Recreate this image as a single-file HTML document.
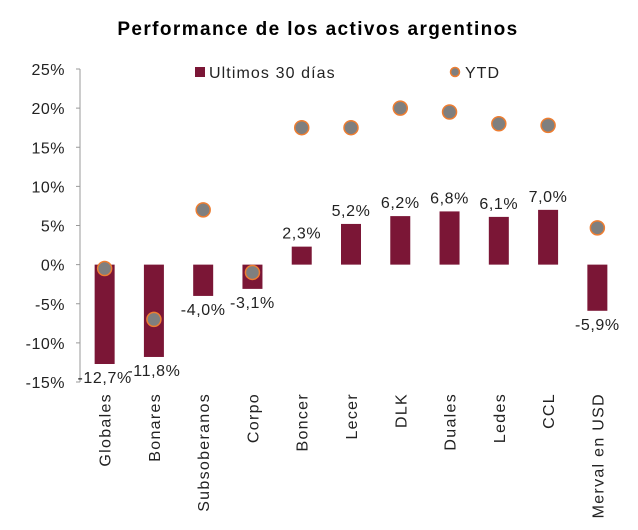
<!DOCTYPE html>
<html><head><meta charset="utf-8"><style>
body{margin:0;background:#fff}
svg{font-family:"Liberation Sans",sans-serif}
</style></head><body>
<svg id="c" width="638" height="525">
<text x="318" y="35" text-anchor="middle" font-size="19" font-weight="bold" fill="#000" letter-spacing="1.4">Performance de los activos argentinos</text>
<g>
<rect x="195" y="67" width="10" height="10" fill="#7b1636"/>
<text x="209" y="78" font-size="16" fill="#222" letter-spacing="1.1">Ultimos 30 días</text>
<circle cx="455" cy="72" r="4.5" fill="#7f7f7f" stroke="#ed7d31" stroke-width="1.5"/>
<text x="465" y="78" font-size="16" fill="#222" letter-spacing="1">YTD</text>
</g>
</svg>
<script>
const categories=["Globales","Bonares","Subsoberanos","Corpo","Boncer","Lecer","DLK","Duales","Ledes","CCL","Merval en USD"];
const last30=[-12.7,-11.8,-4.0,-3.1,2.3,5.2,6.2,6.8,6.1,7.0,-5.9];
const ytd=[-0.5,-7.0,7.0,-1.0,17.5,17.5,20.0,19.5,18.0,17.8,4.7];
const yTicks=[25,20,15,10,5,0,-5,-10,-15];
const svg=document.getElementById('c');
const NS='http://www.w3.org/2000/svg';
const x0=80,x1=622,yTop=69,yBot=382,vMax=25,vMin=-15;
const y=v=>yTop+(vMax-v)/(vMax-vMin)*(yBot-yTop);
const bw=(x1-x0)/categories.length;
const xc=i=>x0+bw*(i+0.5);
function mk(t,a){const e=document.createElementNS(NS,t);for(const k in a)e.setAttribute(k,a[k]);svg.appendChild(e);return e;}
const ax=mk('line',{x1:x0,x2:x0,y1:yTop,y2:yBot,stroke:'#999'});


yTicks.forEach(v=>{
 const tk=mk('line',{x1:x0-4,x2:x0,y1:y(v),y2:y(v),stroke:'#999'});
 
 
 const t=mk('text',{x:x0-15,y:y(v)+6,'text-anchor':'end','font-size':16,fill:'#222','letter-spacing':0.5});
 t.textContent=v+'%';
 
 
});
const fmt=v=>v.toFixed(1).replace('.',',')+'%';
categories.forEach((c,i)=>{
 const v=last30[i];
 const b=mk('rect',{x:xc(i)-10,width:20,y:Math.min(y(v),y(0)),height:Math.abs(y(v)-y(0)),fill:'#7b1636'});
 
 
 const lt=mk('text',{x:xc(i),y:v>=0?y(v)-8:y(v)+19,'text-anchor':'middle','font-size':16,fill:'#222','letter-spacing':0.6});
 lt.textContent=fmt(v);
 
 
 const cl=mk('text',{x:0,y:0,'text-anchor':'end','font-size':16,fill:'#222','letter-spacing':1.3,transform:`translate(${xc(i)+6},393) rotate(-90)`});
 cl.textContent=c;
 
 
});
categories.forEach((c,i)=>{
 const d=mk('circle',{cx:xc(i),cy:y(ytd[i]),r:7,fill:'#7f7f7f',stroke:'#ed7d31','stroke-width':1.5});
 
 
});
</script>
</body></html>
